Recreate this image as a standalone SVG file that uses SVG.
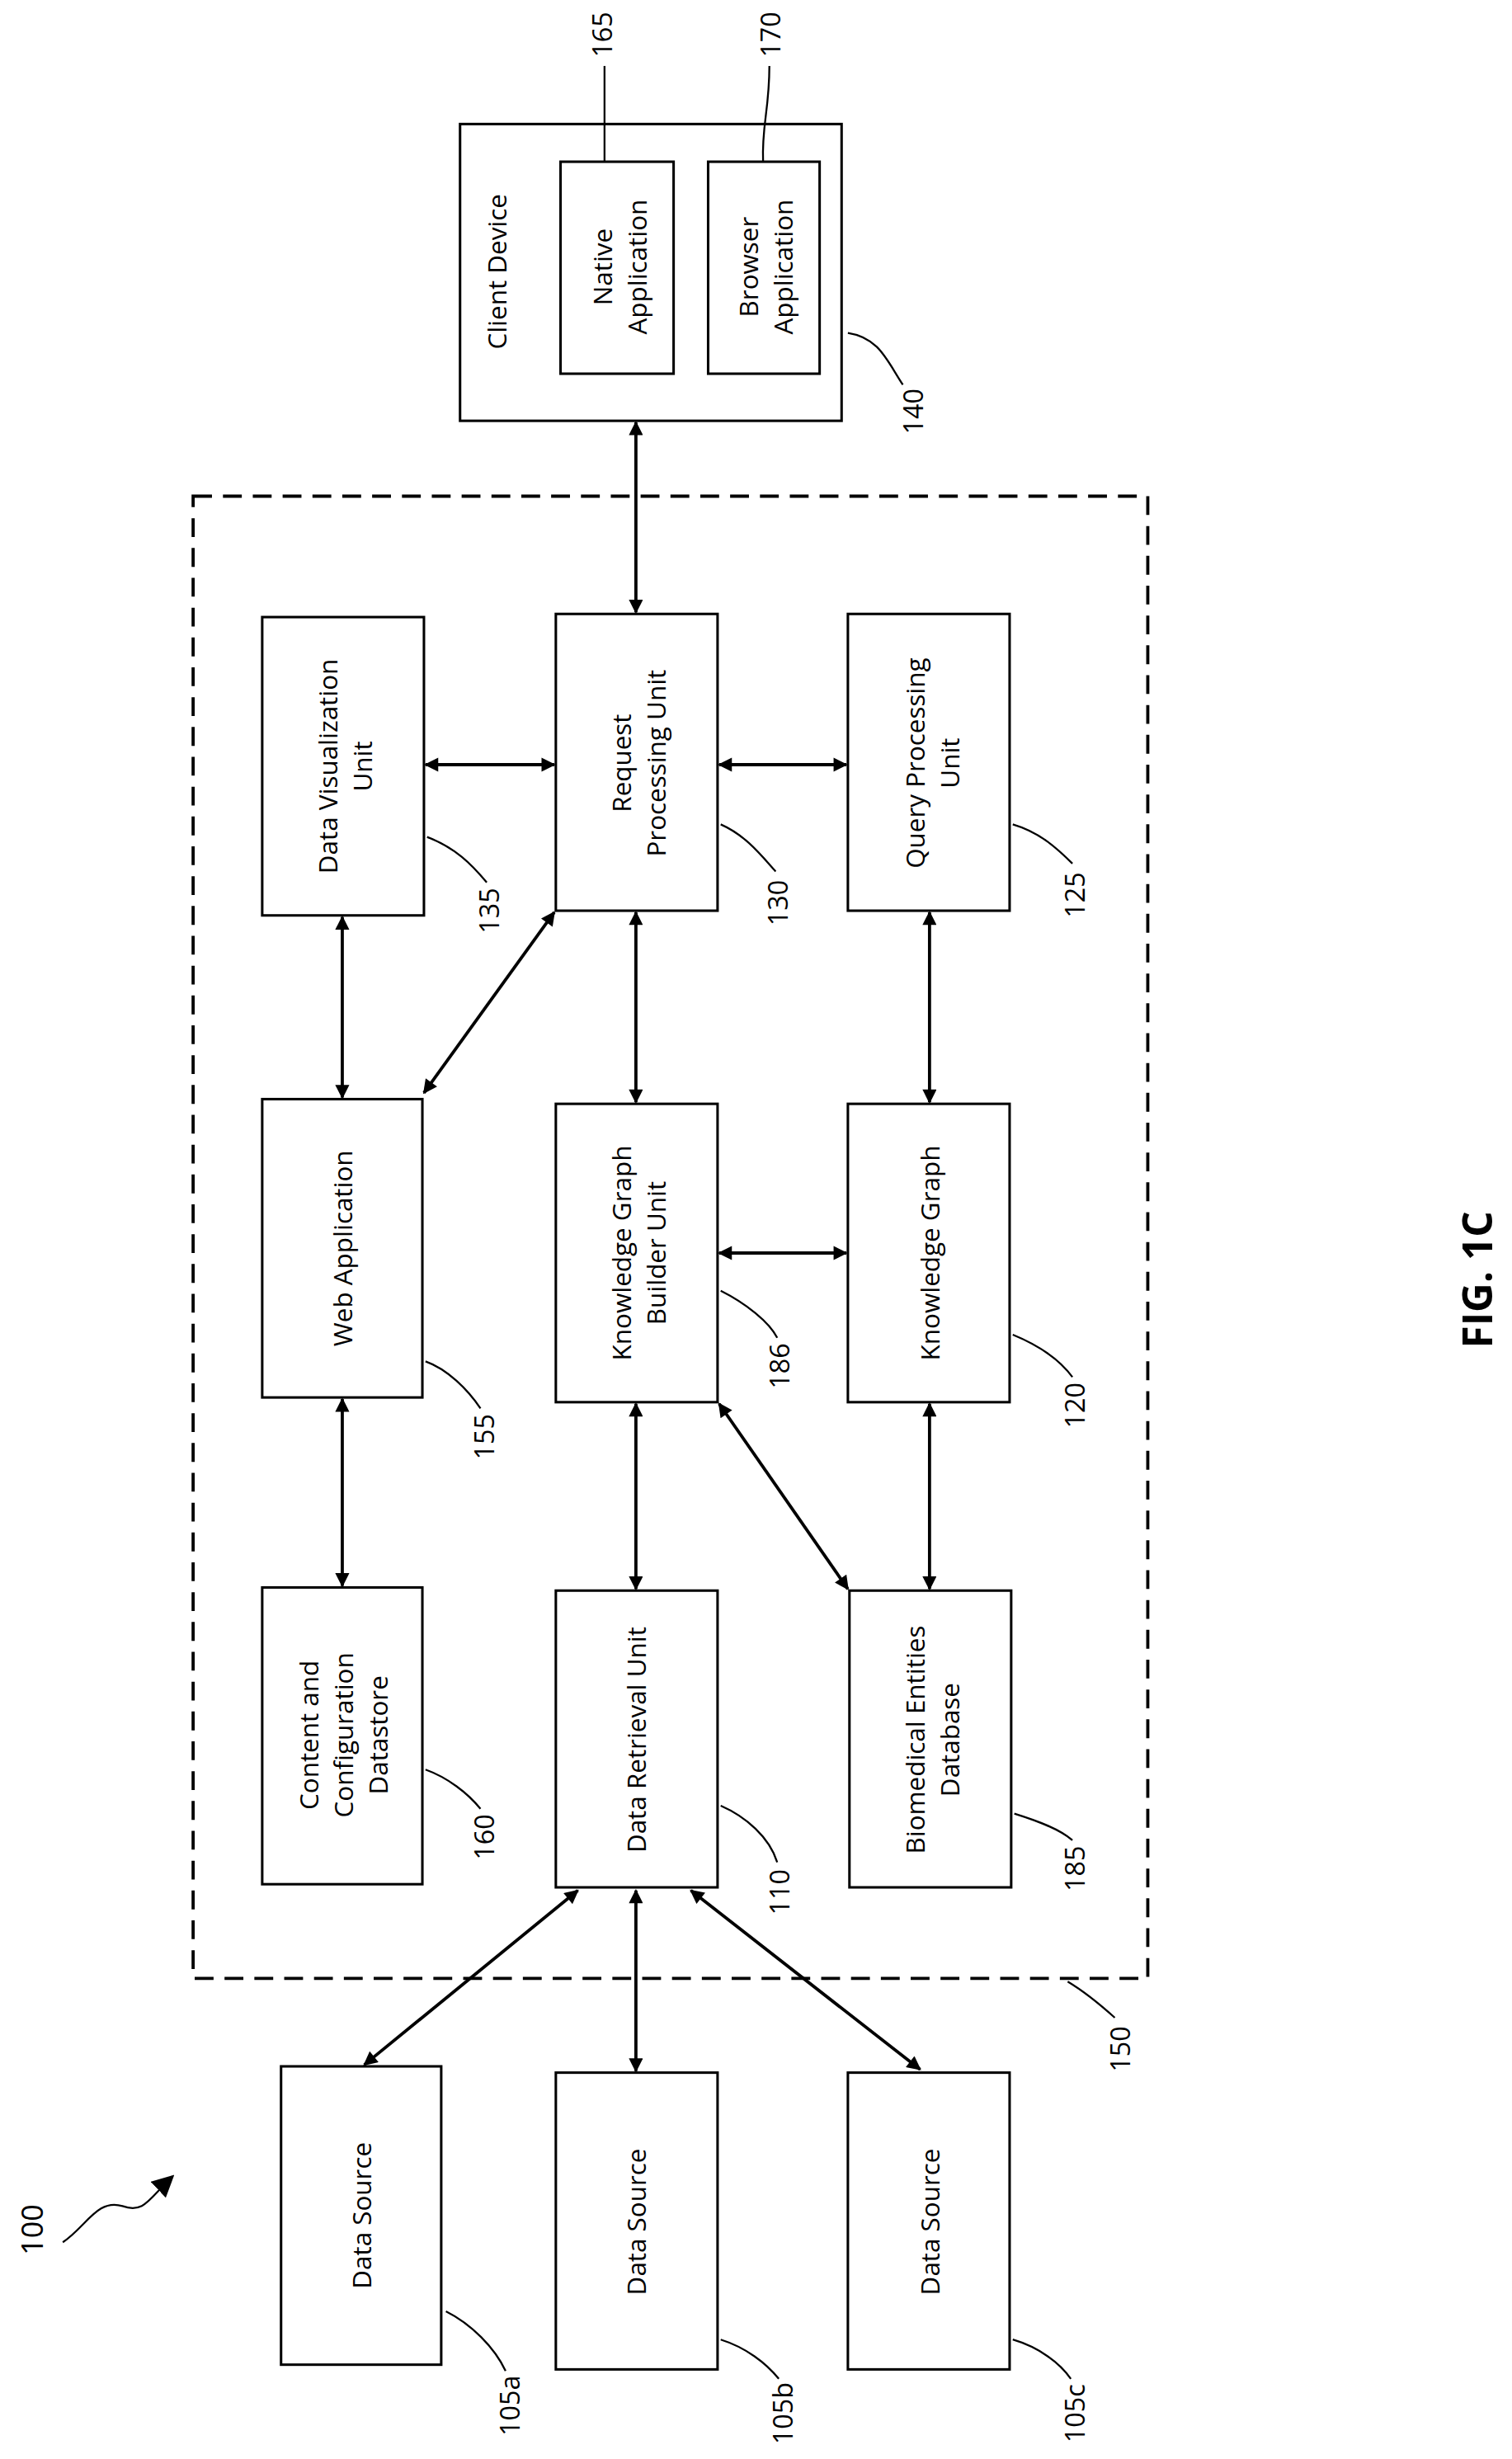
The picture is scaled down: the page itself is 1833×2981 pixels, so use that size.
<svg xmlns="http://www.w3.org/2000/svg" width="1833" height="2981" viewBox="0 0 1833 2981">
<defs>
<marker id="ah" viewBox="0 0 10 10" refX="9" refY="5" markerWidth="10" markerHeight="9" orient="auto-start-reverse" markerUnits="userSpaceOnUse"><path d="M0,0 L10,5 L0,10 z" fill="#000"/></marker>
<marker id="ah2" viewBox="0 0 10 10" refX="9" refY="5" markerWidth="14" markerHeight="14" orient="auto" markerUnits="userSpaceOnUse"><path d="M0,0 L10,5 L0,10 z" fill="#000"/></marker>
<style>
.b{fill:#fff;stroke:#000;stroke-width:1.6}
.t{font-family:"Open Sans","Liberation Sans",sans-serif;font-size:16.5px;text-anchor:middle;dominant-baseline:central}
.l{font-family:"Open Sans","Liberation Sans",sans-serif;font-size:17px;text-anchor:middle;dominant-baseline:central}
.c{fill:none;stroke:#000;stroke-width:2;marker-start:url(#ah);marker-end:url(#ah)}
.q{fill:none;stroke:#000;stroke-width:1.2}
</style>
</defs>
<rect width="1833" height="2981" fill="#fff"/>
<g transform="scale(1.9035)">
<rect x="123" y="316" width="608" height="944" fill="none" stroke="#000" stroke-width="2" stroke-dasharray="12,7"/>
<g id="client"><rect class="b" x="293" y="79" width="243" height="189"/><text class="t" transform="rotate(-90 316 173)" x="316" y="173">Client Device</text>
<rect class="b" x="357" y="103" width="72" height="135"/><text class="t" transform="rotate(-90 393 170)" x="393" y="170"><tspan x="393" dy="-10">Native</tspan><tspan x="393" dy="22">Application</tspan></text>
<rect class="b" x="451" y="103" width="71" height="135"/><text class="t" transform="rotate(-90 486 170)" x="486" y="170"><tspan x="486" dy="-10">Browser</tspan><tspan x="486" dy="22">Application</tspan></text></g>
<g id="dvu"><rect class="b" x="167" y="393" width="103" height="190"/><text class="t" transform="rotate(-90 218 488)" x="218" y="488"><tspan x="218" dy="-10">Data Visualization</tspan><tspan x="218" dy="22">Unit</tspan></text></g>
<g id="rpu"><rect class="b" x="354" y="391" width="103" height="189"/><text class="t" transform="rotate(-90 405 486)" x="405" y="486"><tspan x="405" dy="-10">Request</tspan><tspan x="405" dy="22">Processing Unit</tspan></text></g>
<g id="qpu"><rect class="b" x="540" y="391" width="103" height="189"/><text class="t" transform="rotate(-90 592 486)" x="592" y="486"><tspan x="592" dy="-10">Query Processing</tspan><tspan x="592" dy="22">Unit</tspan></text></g>
<g id="web"><rect class="b" x="167" y="700" width="102" height="190"/><text class="t" transform="rotate(-90 218 795)" x="218" y="795">Web Application</text></g>
<g id="kgb"><rect class="b" x="354" y="703" width="103" height="190"/><text class="t" transform="rotate(-90 405 798)" x="405" y="798"><tspan x="405" dy="-10">Knowledge Graph</tspan><tspan x="405" dy="22">Builder Unit</tspan></text></g>
<g id="kg"><rect class="b" x="540" y="703" width="103" height="190"/><text class="t" transform="rotate(-90 592 798)" x="592" y="798">Knowledge Graph</text></g>
<g id="ccd"><rect class="b" x="167" y="1011" width="102" height="189"/><text class="t" transform="rotate(-90 218 1105)" x="218" y="1105"><tspan x="218" dy="-22">Content and</tspan><tspan x="218" dy="22">Configuration</tspan><tspan x="218" dy="22">Datastore</tspan></text></g>
<g id="dru"><rect class="b" x="354" y="1013" width="103" height="189"/><text class="t" transform="rotate(-90 405 1108)" x="405" y="1108">Data Retrieval Unit</text></g>
<g id="bio"><rect class="b" x="541" y="1013" width="103" height="189"/><text class="t" transform="rotate(-90 592 1108)" x="592" y="1108"><tspan x="592" dy="-10">Biomedical Entities</tspan><tspan x="592" dy="22">Database</tspan></text></g>
<g id="ds1"><rect class="b" x="179" y="1316" width="102" height="190"/><text class="t" transform="rotate(-90 230 1411)" x="230" y="1411">Data Source</text></g>
<g id="ds2"><rect class="b" x="354" y="1320" width="103" height="189"/><text class="t" transform="rotate(-90 405 1415)" x="405" y="1415">Data Source</text></g>
<g id="ds3"><rect class="b" x="540" y="1320" width="103" height="189"/><text class="t" transform="rotate(-90 592 1415)" x="592" y="1415">Data Source</text></g>
<g id="connectors">
<line class="c" x1="405" y1="269" x2="405" y2="390"/>
<line class="c" x1="271" y1="487" x2="353" y2="487"/>
<line class="c" x1="458" y1="487" x2="539" y2="487"/>
<line class="c" x1="218" y1="584" x2="218" y2="699"/>
<line class="c" x1="270" y1="696" x2="353" y2="581"/>
<line class="c" x1="405" y1="581" x2="405" y2="702"/>
<line class="c" x1="592" y1="581" x2="592" y2="702"/>
<line class="c" x1="458" y1="798" x2="539" y2="798"/>
<line class="c" x1="218" y1="891" x2="218" y2="1010"/>
<line class="c" x1="405" y1="894" x2="405" y2="1012"/>
<line class="c" x1="592" y1="894" x2="592" y2="1012"/>
<line class="c" x1="458" y1="894" x2="540" y2="1012"/>
<line class="c" x1="368" y1="1204" x2="232" y2="1315"/>
<line class="c" x1="405" y1="1204" x2="405" y2="1319"/>
<line class="c" x1="440" y1="1204" x2="586" y2="1318"/>
</g>
<g id="labels">
<path class="q" d="M385,42 L385,103"/><text class="l" transform="rotate(-90 383 22)" x="383" y="22">165</text>
<path class="q" d="M490,42 C490,70 485,80 486,103"/><text class="l" transform="rotate(-90 490 22)" x="490" y="22">170</text>
<path class="q" d="M540,212 C560,215 565,230 575,245"/><text class="l" transform="rotate(-90 581 262)" x="581" y="262">140</text>
<path class="q" d="M272,533 C290,540 300,550 310,562"/><text class="l" transform="rotate(-90 311 580)" x="311" y="580">135</text>
<path class="q" d="M459,525 C475,532 485,545 494,555"/><text class="l" transform="rotate(-90 495 575)" x="495" y="575">130</text>
<path class="q" d="M645,525 C662,530 673,540 683,550"/><text class="l" transform="rotate(-90 684 570)" x="684" y="570">125</text>
<path class="q" d="M271,867 C285,872 298,885 306,897"/><text class="l" transform="rotate(-90 308 915)" x="308" y="915">155</text>
<path class="q" d="M459,822 C475,830 490,842 495,852"/><text class="l" transform="rotate(-90 496 870)" x="496" y="870">186</text>
<path class="q" d="M645,850 C662,857 675,866 683,877"/><text class="l" transform="rotate(-90 684 895)" x="684" y="895">120</text>
<path class="q" d="M271,1127 C285,1132 298,1142 306,1152"/><text class="l" transform="rotate(-90 308 1170)" x="308" y="1170">160</text>
<path class="q" d="M459,1150 C475,1157 490,1170 495,1186"/><text class="l" transform="rotate(-90 496 1205)" x="496" y="1205">110</text>
<path class="q" d="M646,1155 C662,1160 675,1165 683,1172"/><text class="l" transform="rotate(-90 684 1190)" x="684" y="1190">185</text>
<path class="q" d="M680,1262 C690,1268 700,1276 710,1285"/><text class="l" transform="rotate(-90 713 1305)" x="713" y="1305">150</text>
<path class="q" d="M284,1472 C300,1480 315,1495 322,1510"/><text class="l" transform="rotate(-90 324 1532)" x="324" y="1532">105a</text>
<path class="q" d="M459,1490 C475,1495 488,1505 496,1515"/><text class="l" transform="rotate(-90 498 1537)" x="498" y="1537">105b</text>
<path class="q" d="M645,1490 C662,1495 675,1505 682,1515"/><text class="l" transform="rotate(-90 684 1537)" x="684" y="1537">105c</text>
<path d="M40,1428 C55,1418 62,1400 78,1405 C92,1410 95,1400 110,1386" fill="none" stroke="#000" stroke-width="1.2" marker-end="url(#ah2)"/><text class="l" transform="rotate(-90 20 1420)" x="20" y="1420" style="font-size:19px">100</text>
<text transform="rotate(-90 940 815)" x="940" y="815" style="font-family:'Open Sans','Liberation Sans',sans-serif;font-size:26px;font-weight:bold;text-anchor:middle;dominant-baseline:central">FIG. 1C</text>
</g>
</g>
</svg>
